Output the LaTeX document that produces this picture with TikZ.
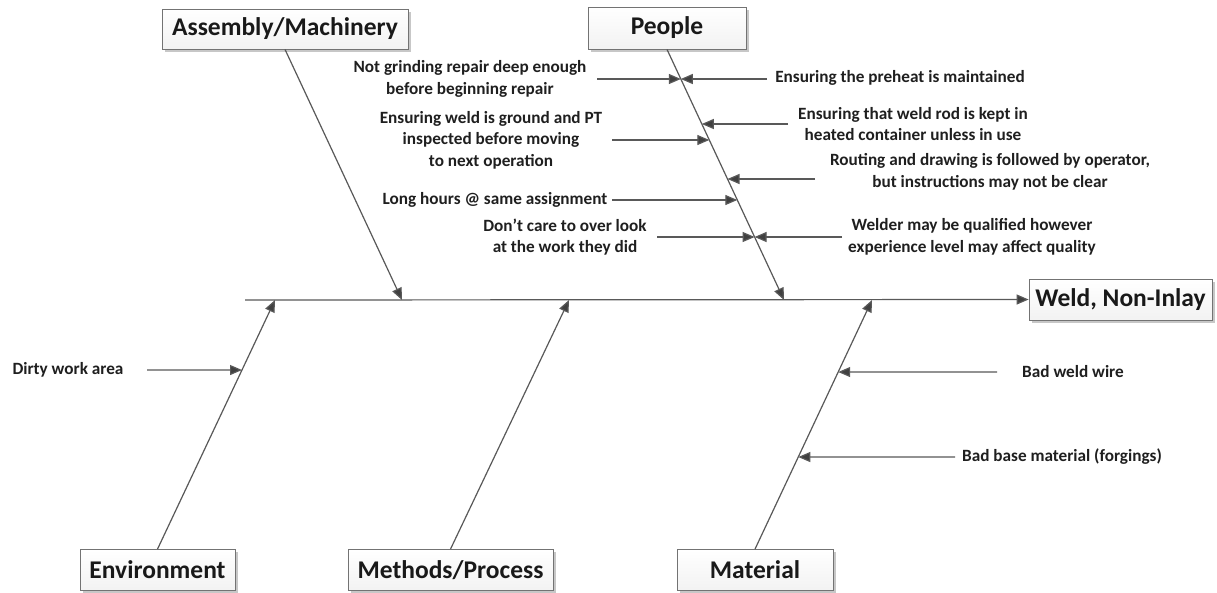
\documentclass[tikz,border=0pt]{standalone}
\usepackage{fontspec}
\setmainfont{Carlito}
\usetikzlibrary{shadows,arrows.meta}
\begin{document}
\begin{tikzpicture}[x=1pt,y=-1pt,
  line/.style={draw=black!65, line width=1.2pt},
  arr/.style={line, -{Triangle[length=12pt,width=10pt,fill=black!75]}},
  cat/.style={draw=black!55, line width=0.8pt, top color=white, bottom color=black!5,
    drop shadow={shadow xshift=2.5pt, shadow yshift=-2.5pt, opacity=0.22, fill=black},
    font=\bfseries\fontsize{25.5}{28}\selectfont, inner sep=0pt, text=black!90},
  note/.style={font=\bfseries\fontsize{17.2}{21.5}\selectfont, align=center, inner sep=0pt, text=black!88}]
\useasboundingbox (0,0) rectangle (1217,592);
\fill[white] (0,0) rectangle (1217,592);

% category boxes and effect box
\node[cat, minimum width=246pt, minimum height=40pt] (asm) at (285,29) {Assembly/Machinery};
\node[cat, minimum width=158pt, minimum height=42pt] (ppl) at (667,28) {People};
\node[cat, minimum width=155pt, minimum height=41pt] (env) at (157.5,570) {Environment};
\node[cat, minimum width=205pt, minimum height=41pt] (mth) at (450.5,570) {Methods/Process};
\node[cat, minimum width=156pt, minimum height=41pt] (mat) at (755,570) {Material};
\node[cat, minimum width=183pt, minimum height=41pt] (weld) at (1120.5,299.5) {Weld, Non-Inlay};

% spine and bone ends
\coordinate (spineL) at (245,300);
\coordinate (asmT) at (402,300);
\coordinate (pplT) at (784,300);
\coordinate (envT) at (275,300);
\coordinate (mthT) at (569,300);
\coordinate (matT) at (872,300);

\draw[arr] (spineL) -- (weld.west);
\draw[arr] (asm.south) -- (asmT);
\draw[arr] (ppl.south) -- (pplT);
\draw[arr] (env.north) -- (envT);
\draw[arr] (mth.north) -- (mthT);
\draw[arr] (mat.north) -- (matT);

% points where the cause arrows meet the bones
\coordinate (b1) at (intersection of ppl.south--pplT and {0,79}--{1,79});
\coordinate (b3) at (intersection of ppl.south--pplT and {0,124}--{1,124});
\coordinate (b4) at (intersection of ppl.south--pplT and {0,140}--{1,140});
\coordinate (b5) at (intersection of ppl.south--pplT and {0,179}--{1,179});
\coordinate (b6) at (intersection of ppl.south--pplT and {0,200}--{1,200});
\coordinate (b7) at (intersection of ppl.south--pplT and {0,237}--{1,237});
\coordinate (b9) at (intersection of env.north--envT and {0,370}--{1,370});
\coordinate (b10) at (intersection of mat.north--matT and {0,372}--{1,372});
\coordinate (b11) at (intersection of mat.north--matT and {0,457}--{1,457});

% cause texts
\node[note] (n1) at (470,79) {Not grinding repair deep enough\\before beginning repair};
\node[note] (n2) at (900,78) {Ensuring the preheat is maintained};
\node[note] (n3) at (913,124) {Ensuring that weld rod is kept in\\heated container unless in use};
\node[note] (n4) at (491,140) {Ensuring weld is ground and PT\\inspected before moving\\to next operation};
\node[note] (n5) at (990,172) {Routing and drawing is followed by operator,\\but instructions may not be clear};
\node[note] (n6) at (495,200) {Long hours @ same assignment};
\node[note] (n7) at (565,237) {Don’t care to over look\\at the work they did};
\node[note] (n8) at (972,237) {Welder may be qualified however\\experience level may affect quality};
\node[note] (n9) at (68,370) {Dirty work area};
\node[note] (n10) at (1073,372) {Bad weld wire};
\node[note] (n11) at (1062,457) {Bad base material (forgings)};

% cause arrow tails
\coordinate (s1) at (597,79);
\coordinate (s2) at (767,79);
\coordinate (s3) at (788,124);
\coordinate (s4) at (612,140);
\coordinate (s5) at (815,179);
\coordinate (s6) at (612,200);
\coordinate (s7) at (657,237);
\coordinate (s8) at (842,237);
\coordinate (s9) at (147,370);
\coordinate (s10) at (997,372);
\coordinate (s11) at (955,457);

\draw[arr] (s1) -- (b1);
\draw[arr] (s2) -- (b1);
\draw[arr] (s3) -- (b3);
\draw[arr] (s4) -- (b4);
\draw[arr] (s5) -- (b5);
\draw[arr] (s6) -- (b6);
\draw[arr] (s7) -- (b7);
\draw[arr] (s8) -- (b7);
\draw[arr] (s9) -- (b9);
\draw[arr] (s10) -- (b10);
\draw[arr] (s11) -- (b11);
\end{tikzpicture}
\end{document}
